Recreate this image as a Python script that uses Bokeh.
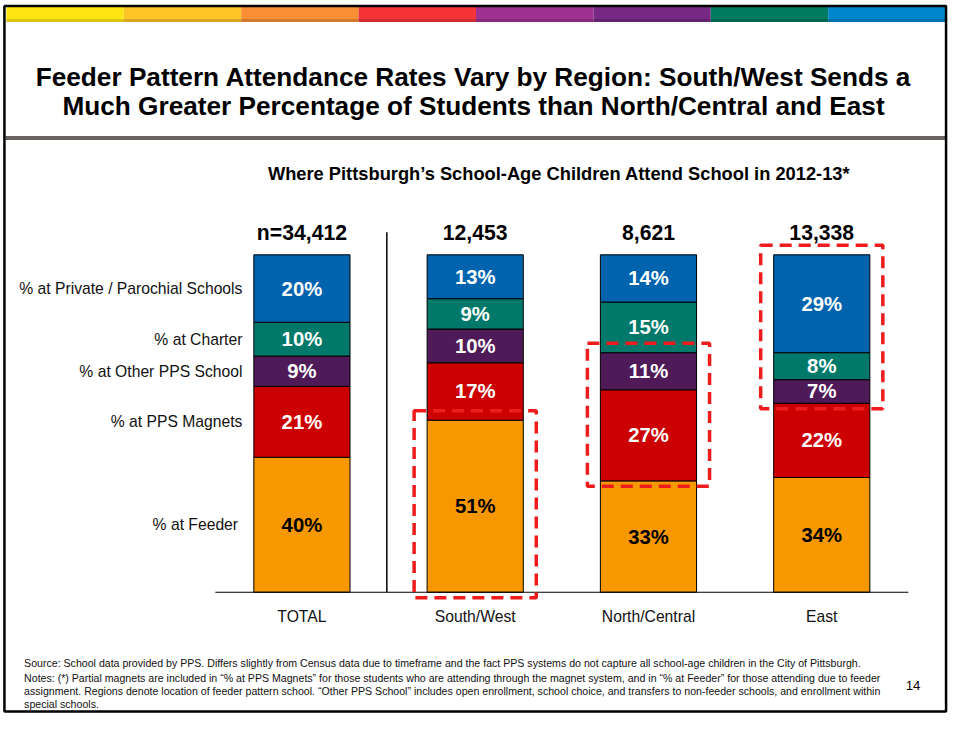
import numpy as np
from bokeh.plotting import figure
from bokeh.models import ColumnDataSource, Range1d
from bokeh.core.properties import value
from bokeh.embed import file_html
from bokeh.resources import INLINE

# ---------------- data ----------------
categories = ["TOTAL", "South/West", "North/Central", "East"]
n_labels = ["n=34,412", "12,453", "8,621", "13,338"]
series_names = ["% at  Feeder", "% at PPS Magnets", "% at Other PPS School",
                "% at Charter", "% at Private / Parochial Schools"]
feeder = [40, 51, 33, 34]
magnets = [21, 17, 27, 22]
other_pps = [9, 10, 11, 7]
charter = [10, 9, 15, 8]
private = [20, 13, 14, 29]
# highlighted block of segments per region (first / last series index); -1 = none
highlight_first = [-1, 0, 1, 2]
highlight_last = [-1, 0, 2, 4]

title_lines = ["Feeder Pattern Attendance Rates Vary by Region: South/West Sends a",
               "Much Greater Percentage of Students than North/Central and East"]
subtitle = "Where Pittsburgh\u2019s School-Age Children Attend School in 2012-13*"
footnotes = [
    "Source: School data provided by PPS.  Differs slightly from Census data due to timeframe and the fact PPS systems do not capture all school-age children in the City of Pittsburgh.",
    "Notes: (*) Partial magnets are included in \u201c% at PPS Magnets\u201d for those students who are attending through the magnet system, and in \u201c% at Feeder\u201d for those attending due to feeder",
    "assignment. Regions denote location of feeder pattern school. \u201cOther PPS School\u201d includes open enrollment, school choice, and transfers to non-feeder schools, and enrollment within",
    "special schools.",
]
page_number = "14"

# ---------------- styles / layout ----------------
seg_colors = ["#F79800", "#CC0000", "#4E1A57", "#00796B", "#0063AE"]
label_colors = ["black", "white", "white", "white", "white"]
strip_colors = ["#FFE511", "#FFC425", "#FA8F36", "#F53336",
                "#9E3191", "#772A83", "#007B5F", "#0086CD"]
FONT = "Liberation Sans"
W, H = 949, 714
REF_W, REF_H = 965, 730
CX, DX = 306.5, 176.2      # reference px of first category centre, px per category
BASE, PPP = 605.0, 3.45    # reference px of baseline, px per percent
FS = W / REF_W


def RX(px):
    return (np.asarray(px, dtype=float) - CX) / DX


def RY(py):
    return (BASE - np.asarray(py, dtype=float)) / PPP


def fs(px):
    return value(f"{px * FS:.1f}px")


p = figure(width=W, height=H, output_backend="svg", toolbar_location=None,
           x_range=Range1d(float(RX(0)), float(RX(REF_W))),
           y_range=Range1d(float(RY(REF_H)), float(RY(0))),
           x_axis_type=None, y_axis_type=None,
           min_border=0, min_border_left=0, min_border_right=0,
           min_border_top=0, min_border_bottom=0,
           outline_line_color=None, background_fill_color="white",
           border_fill_color="white")

# slide frame, colour strip and separator
edges = np.linspace(6, 961, len(strip_colors) + 1)
p.quad(left=RX(edges[:-1]), right=RX(edges[1:]), top=RY(6.5), bottom=RY(22),
       fill_color=strip_colors, line_color=None)
p.quad(left=[float(RX(6))], right=[float(RX(961))], top=[float(RY(19))], bottom=[float(RY(22))],
       fill_color="black", fill_alpha=0.15, line_color=None)
p.quad(left=[float(RX(5))], right=[float(RX(961))], top=[float(RY(138.5))], bottom=[float(RY(142.5))],
       fill_color="#6B6262", line_color=None)
p.quad(left=[float(RX(4))], right=[float(RX(961.5))], top=[float(RY(5.5))], bottom=[float(RY(727))],
       fill_color=None, line_color="black", line_width=2.5)

# stacked bars
keys = ["feeder", "magnets", "other_pps", "charter", "private"]
vals = np.array([feeder, magnets, other_pps, charter, private], dtype=float)
xs = list(range(len(categories)))
src = ColumnDataSource(dict(x=xs, feeder=feeder, magnets=magnets, other_pps=other_pps,
                            charter=charter, private=private))
BAR_W = 0.555
p.vbar_stack(keys, x="x", width=BAR_W, source=src, fill_color=seg_colors,
             line_color="black", line_width=1)

tops = np.cumsum(vals, axis=0)
mids = tops - vals / 2.0

# baseline and divider
p.segment(x0=[-0.5], y0=[0], x1=[len(categories) - 0.5], y1=[0], line_color="black", line_width=1.2)
p.segment(x0=[0.49], y0=[0], x1=[0.49], y1=[float(RY(237))], line_color="black", line_width=1.5)

# dashed highlight boxes
hl = [j for j in xs if highlight_first[j] >= 0]
lo = [tops[highlight_first[j]][j] - vals[highlight_first[j]][j] for j in hl]
hi = [tops[highlight_last[j]][j] for j in hl]
PADX, PADT, PADB = 0.075, 2.8, 1.6
p.quad(left=[j - BAR_W / 2 - PADX for j in hl], right=[j + BAR_W / 2 + PADX for j in hl],
       bottom=[v - PADB for v in lo], top=[v + PADT for v in hi],
       fill_color=None, line_color="#EE1C1C", line_width=3.5, line_dash="12 7")

# segment value labels
for i in range(len(keys)):
    p.text(x=xs, y=list(mids[i]), text=[f"{int(v)}%" for v in vals[i]],
           text_font=value(FONT), text_font_style="bold", text_font_size=fs(20.6),
           text_color=label_colors[i], text_align="center", text_baseline="middle")

# series labels at left, aligned with TOTAL segments
p.text(x=[float(RX(246))] * len(series_names), y=list(mids[:, 0]), text=series_names,
       text_font=value(FONT), text_font_size=fs(16), text_color="#111111",
       text_align="right", text_baseline="middle")

# n labels and category labels
p.text(x=xs, y=[float(RY(237))] * len(xs), text=n_labels, text_font=value(FONT),
       text_font_style="bold", text_font_size=fs(21.6), text_color="black",
       text_align="center", text_baseline="middle")
p.text(x=xs, y=[float(RY(630))] * len(xs), text=categories, text_font=value(FONT),
       text_font_size=fs(16), text_color="#111111", text_align="center", text_baseline="middle")

# titles
p.text(x=[float(RX(481))] * 2, y=[float(RY(78)), float(RY(108))], text=title_lines,
       text_font=value(FONT), text_font_style="bold", text_font_size=fs(26.6),
       text_color="black", text_align="center", text_baseline="middle")
p.text(x=[float(RX(568))], y=[float(RY(177))], text=[subtitle], text_font=value(FONT),
       text_font_style="bold", text_font_size=fs(18.6), text_color="black",
       text_align="center", text_baseline="middle")

# footnotes
p.text(x=[float(RX(24))] * len(footnotes), y=[float(v) for v in RY([677, 693, 706, 719])],
       text=footnotes, text_font=value(FONT), text_font_size=fs(10.8), text_color="#111111",
       text_align="left", text_baseline="middle")
p.text(x=[float(RX(928))], y=[float(RY(700))], text=[page_number], text_font=value(FONT),
       text_font_size=fs(13.5), text_color="black", text_align="center", text_baseline="middle")

open("out.html", "w").write(file_html(p, INLINE))
